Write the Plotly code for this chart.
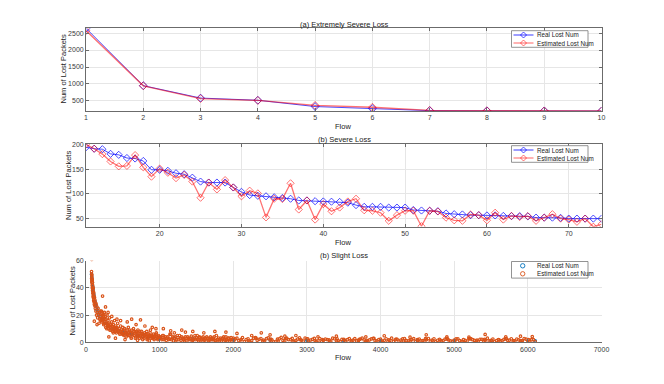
import plotly.graph_objects as go

# ---------------- data ----------------
# (a) extremely severe loss, flows 1..10
flow_a = list(range(1, 11))
real_a = [2640, 950, 585, 520, 335, 275, 215, 210, 208, 205]
est_a = [2575, 945, 570, 515, 370, 315, 225, 212, 207, 204]

# (b) severe loss, flows 11..74
flow_b = list(range(11, 75))
real_b = [195, 192, 191, 181.5, 179.5, 173, 172, 167, 149, 149,
          147, 142, 140, 133, 125, 123, 123, 123, 113, 104,
          97.5, 96, 95, 93, 91.5, 90, 86.5, 86.5, 85, 84.5,
          84, 83.5, 82, 77, 73.5, 73.5, 73.5, 72, 72, 72,
          67, 66, 65.5, 64.5, 60, 58.5, 58, 56.5, 56.5, 56,
          56, 55, 54.5, 54.5, 54, 51.5, 51.5, 51.5, 51, 49.5,
          49.5, 49.5, 49.5, 49.5]
est_b = [201, 192, 181, 166, 156, 157, 179, 154, 135, 151.5,
         143, 132, 138.5, 125, 92, 123, 109, 128, 113, 95,
         106.5, 101, 52, 90, 89.5, 121.5, 68, 86.5, 47.5, 79,
         64.5, 72, 84.5, 90, 66.5, 65.5, 61.5, 45, 56.5, 65.5,
         65.5, 34, 65.5, 64, 51.5, 46, 45, 58, 56.5, 46,
         61.5, 47.5, 55, 53, 54.5, 45, 51.5, 58.5, 49.5, 47.5,
         43, 49.5, 33, 38]

# (c) slight loss, sampled flows
real_c_x = [75, 78, 82, 86, 91, 95, 100, 106, 112, 122,
            135, 150, 170, 190, 220, 260, 300, 330, 380, 440,
            500, 545, 620, 700, 772, 850, 1000, 1200, 1455, 1700,
            2000, 2500, 3000, 3500, 4000, 4500, 5000, 5500, 6100]
real_c_y = [50, 48, 46, 44, 41, 39, 37, 35, 33, 30,
            27, 24, 21, 19, 17, 14, 12.5, 11, 10, 8.5,
            7.5, 7, 6, 5, 4.5, 4, 3.5, 3, 2.5, 2.2,
            2, 1.8, 1.5, 1.4, 1.3, 1.2, 1.1, 1.1, 1]

seg_a_x = [75, 76, 77, 78, 79, 80, 81, 82, 84, 85,
           86, 88, 89, 90, 92, 93, 95, 96, 98, 100,
           102, 104, 106, 108, 110, 113, 116, 119, 122, 126,
           130, 134, 138, 143, 148, 153, 158, 164, 170, 176,
           182, 188, 194, 200]
seg_a_y = [52, 47, 50, 61, 45, 49, 44, 47, 42, 46,
           40, 44, 38, 42, 36, 40, 38, 34, 40, 33,
           37, 31, 36, 30, 34, 28, 33, 27, 31, 25,
           29, 23, 28, 20, 26, 22, 18, 25, 20, 14,
           22, 17, 23, 16]

seg_b_x = [205, 210, 215, 220, 225, 230, 235, 240, 245, 250,
           256, 262, 268, 274, 280, 286, 292, 298, 305, 312,
           319, 326, 333, 340, 348, 356, 364, 372, 380, 388,
           396, 404, 412, 420, 430, 440, 450, 460, 470, 480,
           490, 500]
seg_b_y = [19, 23, 15, 20, 34, 17, 21, 13, 18, 22,
           15, 19, 11, 17, 14, 20, 12, 16, 10, 14,
           18, 11, 13, 9, 15, 12, 8, 13, 10, 16,
           9, 12, 7, 11, 14, 8, 10, 6, 12, 9,
           7, 11]
seg_b2_x = [208, 218, 228, 238, 248, 258, 270, 282, 295, 310,
            325, 340, 355, 370, 385, 400, 415, 435, 455, 475, 495]
seg_b2_y = [17, 21, 16, 19, 14, 17, 14, 10, 13, 12,
            9, 12, 10, 7, 11, 8, 10, 9, 7, 8, 6]

seg_c_x = [505, 515, 525, 535, 545, 555, 565, 575, 585, 595,
           605, 615, 625, 635, 645, 655, 665, 675, 685, 695,
           705, 715, 725, 735, 745, 755, 765, 775, 785, 795,
           805, 815, 825, 835, 845, 855, 865, 875, 885, 895,
           905, 915, 925, 935, 945, 955, 965, 975, 985, 995]
seg_c_y = [8, 5, 10, 7, 4, 9, 6, 11, 5, 8,
           7, 3, 9, 6, 10, 5, 7, 4, 8, 6,
           9, 5, 3, 7, 5, 8, 4, 6, 3, 7,
           5, 4, 8, 3, 6, 4, 5, 9, 3, 5,
           4, 6, 2, 5, 3, 7, 4, 2, 5, 3]
seg_c2_x = [510, 530, 550, 570, 590, 610, 630, 650, 670, 690,
            710, 730, 750, 770, 790, 810, 830, 850, 870, 890,
            910, 930, 950, 970, 990]
seg_c2_y = [6, 9, 7, 5, 9, 4, 7, 8, 3, 7,
            4, 8, 6, 2, 5, 6, 2, 5, 7, 4,
            3, 4, 6, 3, 4]

seg_d_x = [1010, 1030, 1050, 1070, 1090, 1110, 1130, 1150, 1170, 1190,
           1210, 1230, 1250, 1270, 1290, 1310, 1330, 1350, 1370, 1390,
           1410, 1430, 1450, 1470, 1490, 1510, 1530, 1550, 1570, 1590,
           1610, 1630, 1650, 1670, 1690, 1710, 1730, 1750, 1770, 1790,
           1810, 1830, 1850, 1870, 1890, 1910, 1930, 1950, 1970, 1990]
seg_d_y = [4, 2, 5, 3, 1.5, 4, 2.5, 6, 3, 1,
           4, 2, 3.5, 5, 1.5, 3, 2, 4, 1, 3,
           2.5, 4.5, 1.5, 3, 2, 5, 1, 3.5, 2, 4,
           1.5, 2.5, 3, 1, 4, 2, 3, 1.5, 5, 2,
           1, 3, 2.5, 4, 1.5, 2, 3, 1, 3.5, 2]
seg_d2_x = [1020, 1040, 1060, 1080, 1100, 1120, 1140, 1160, 1180, 1200,
            1220, 1240, 1260, 1280, 1300, 1320, 1340, 1360, 1380, 1400,
            1420, 1440, 1460, 1480, 1500, 1520, 1540, 1560, 1580, 1600,
            1620, 1640, 1660, 1680, 1700, 1720, 1740, 1760, 1780, 1800,
            1820, 1840, 1860, 1880, 1900, 1920, 1940, 1960, 1980, 2000]
seg_d2_y = [3, 5, 2, 4, 3, 2, 6, 2, 4, 3,
            1, 5, 2, 3, 4, 2, 1, 3, 4, 2,
            3, 1, 2, 5, 3, 2, 4, 1, 3, 2,
            3, 4, 1, 2, 3, 2, 4, 1, 2, 3,
            2, 1, 3, 2, 4, 1, 3, 2, 2, 3]

seg_e_x = [2025, 2075, 2125, 2175, 2225, 2275, 2325, 2375, 2425, 2475,
           2525, 2575, 2625, 2675, 2725, 2775, 2825, 2875, 2925, 2975,
           3025, 3075, 3125, 3175, 3225, 3275, 3325, 3375, 3425, 3475,
           3525, 3575, 3625, 3675, 3725, 3775, 3825, 3875, 3925, 3975,
           4025, 4075, 4125, 4175, 4225, 4275, 4325, 4375, 4425, 4475,
           4525, 4575, 4625, 4675, 4725, 4775, 4825, 4875, 4925, 4975,
           5025, 5075, 5125, 5175, 5225, 5275, 5325, 5375, 5425, 5475,
           5525, 5575, 5625, 5675, 5725, 5775, 5825, 5875, 5925, 5975,
           6025, 6075]
seg_e_y = [2.5, 1.2, 3.5, 2, 0.8, 3, 1.5, 2.8, 1, 3.2,
           1.8, 0.6, 2.6, 1.4, 3, 2, 0.9, 2.4, 1.6, 3.1,
           1.2, 2.2, 0.7, 2.8, 1.5, 2, 0.9, 2.6, 1.3, 2.1,
           0.6, 2.7, 1.6, 1, 2.4, 1.8, 0.8, 2.5, 1.2, 2,
           0.9, 2.6, 1.4, 0.7, 2.2, 1.6, 2.8, 1, 1.9, 0.6,
           2.4, 1.3, 2, 0.8, 2.6, 1.5, 1, 2.3, 1.7, 0.7,
           2.5, 1.2, 2, 0.9, 2.7, 1.4, 0.8, 2.2, 1.6, 1,
           2.4, 1.3, 0.7, 2.1, 1.5, 2.6, 0.9, 1.8, 1.2, 2.3,
           0.8, 2]
seg_e2_x = [2050, 2100, 2150, 2200, 2250, 2300, 2350, 2400, 2450, 2500,
            2550, 2600, 2650, 2700, 2750, 2800, 2850, 2900, 2950, 3000,
            3050, 3100, 3150, 3200, 3250, 3300, 3350, 3400, 3450, 3500,
            3550, 3600, 3650, 3700, 3750, 3800, 3850, 3900, 3950, 4000,
            4050, 4100, 4150, 4200, 4250, 4300, 4350, 4400, 4450, 4500,
            4550, 4600, 4650, 4700, 4750, 4800, 4850, 4900, 4950, 5000,
            5050, 5100, 5150, 5200, 5250, 5300, 5350, 5400, 5450, 5500,
            5550, 5600, 5650, 5700, 5750, 5800, 5850, 5900, 5950, 6000,
            6050, 6100]
seg_e2_y = [3, 1.8, 0.5, 2.6, 1.3, 3.4, 2.2, 0.9, 2.7, 1.6,
            0.4, 2.3, 3.6, 1.1, 2, 2.9, 1.4, 3.3, 0.8, 2.5,
            1.7, 2.9, 1.1, 0.5, 2.4, 1.8, 3, 1.2, 0.6, 2.2,
            1.9, 0.8, 2.7, 1.4, 3, 0.5, 1.8, 2.9, 1.1, 2.3,
            1.5, 0.6, 3, 1.8, 0.9, 2.5, 1.2, 0.4, 2.7, 1.9,
            1.1, 0.8, 2.8, 1.6, 0.5, 2.2, 1.3, 2.9, 1, 1.7,
            2.5, 0.6, 1.4, 2.8, 1.9, 0.9, 2.2, 1.1, 3, 1.5,
            0.5, 2, 1.2, 2.7, 1.6, 0.8, 2.4, 1.3, 2.8, 1,
            1.9, 0.6]
seg_e3_x = [2010, 2110, 2210, 2310, 2410, 2510, 2610, 2710, 2810, 2910,
            3010, 3110, 3210, 3310, 3410, 3510, 3610, 3710, 3810, 3910,
            4010, 4110, 4210, 4310, 4410, 4510, 4610, 4710, 4810, 4910,
            5010, 5110, 5210, 5310, 5410, 5510, 5610, 5710, 5810, 5910,
            6010]
seg_e3_y = [1.5, 2.2, 0.9, 3, 1.7, 2.4, 1.1, 2.8, 0.7, 1.9,
            2.6, 1.3, 2, 0.8, 2.5, 1.6, 1, 2.2, 1.4, 2.9,
            0.6, 1.8, 2.4, 1.1, 2, 1.5, 2.7, 0.9, 1.7, 2.3,
            1.2, 0.7, 2.5, 1.6, 2.1, 1, 1.8, 2.6, 1.3, 0.8,
            2]

outlier_x = [113, 150, 265, 300, 310, 350, 400, 420, 470, 530,
             560, 620, 680, 700, 740, 800, 860, 900, 950, 1050,
             1150, 1200, 1300, 1350, 1450, 1600, 1750, 1900, 2050, 2250,
             2380, 2500, 2700, 2850, 3150, 3400, 3800, 4050, 4400, 4620,
             4900, 5200, 5420, 5700, 5900, 6060]
outlier_y = [15.5, 13, 26, 22, 4, 19, 3, 17, 16, 2,
             15, 17, 13, 1.5, 16.5, 12, 1, 11, 10, 10,
             8.5, 7, 9, 7.5, 8, 7, 8, 7.5, 6.5, 5,
             7, 5.5, 4.5, 5, 4, 4.5, 4, 4.8, 3.8, 5.5,
             4, 3.8, 5.8, 4, 4.5, 4.2]

est_c_x = (seg_a_x + seg_b_x + seg_b2_x + seg_c_x + seg_c2_x + seg_d_x
           + seg_d2_x + seg_e_x + seg_e2_x + seg_e3_x + outlier_x)
est_c_y = (seg_a_y + seg_b_y + seg_b2_y + seg_c_y + seg_c2_y + seg_d_y
           + seg_d2_y + seg_e_y + seg_e2_y + seg_e3_y + outlier_y)
assert len(est_c_x) == len(est_c_y)

series_names = ["Real Lost Num", "Estimated Lost Num"]

# ---------------- style ----------------
# the page body adds an 8px offset, so the figure is 8px smaller and all
# target pixel positions below are given in window coordinates
OFF = 8
W, H = 664 - OFF, 384 - OFF
FONT = "Liberation Sans, Arial, sans-serif"
AX = "#6b6b6b"
TXT = "#3a3a3a"
BLUE = "rgba(0,0,255,0.7)"
RED = "rgba(255,0,0,0.55)"
M_BLUE = "#0072BD"
M_ORANGE = "#D95319"


def px_x(p):
    return (p - OFF) / W


def px_y(p):
    return 1 - (p - OFF) / H


fig = go.Figure()

# (a)
fig.add_trace(go.Scatter(x=flow_a, y=real_a, name=series_names[0], mode="lines+markers",
                         line=dict(color=BLUE, width=1),
                         marker=dict(symbol="diamond-open", size=6, color=BLUE, line=dict(width=1)),
                         xaxis="x", yaxis="y"))
fig.add_trace(go.Scatter(x=flow_a, y=est_a, name=series_names[1], mode="lines+markers",
                         line=dict(color=RED, width=1.3),
                         marker=dict(symbol="diamond-open", size=6, color=RED, line=dict(width=1)),
                         xaxis="x", yaxis="y"))
# (b)
fig.add_trace(go.Scatter(x=flow_b, y=real_b, name=series_names[0], mode="lines+markers",
                         line=dict(color=BLUE, width=1),
                         marker=dict(symbol="diamond-open", size=5.5, color=BLUE, line=dict(width=1)),
                         xaxis="x2", yaxis="y2"))
fig.add_trace(go.Scatter(x=flow_b, y=est_b, name=series_names[1], mode="lines+markers",
                         line=dict(color=RED, width=1.3),
                         marker=dict(symbol="diamond-open", size=5.5, color=RED, line=dict(width=1)),
                         xaxis="x2", yaxis="y2"))
# (c)
fig.add_trace(go.Scatter(x=real_c_x, y=real_c_y, name=series_names[0], mode="markers",
                         marker=dict(symbol="circle-open", size=2.5, color=M_BLUE, line=dict(width=1.2)),
                         xaxis="x3", yaxis="y3"))
fig.add_trace(go.Scatter(x=est_c_x, y=est_c_y, name=series_names[1], mode="markers",
                         marker=dict(symbol="circle-open", size=2.5, color=M_ORANGE, line=dict(width=1.2)),
                         xaxis="x3", yaxis="y3"))

xdom = [px_x(86), px_x(601.5)]
common = dict(showline=True, linecolor=AX, linewidth=0.8, ticks="inside", ticklen=3,
              tickcolor=AX, showgrid=True, gridcolor="#e6e6e6", gridwidth=0.7,
              zeroline=False, tickfont=dict(size=7, color=TXT, family=FONT),
              automargin=False)

ya_lo = min(real_a + est_a)
ya_hi = max(real_a + est_a)
yb_lo = min(real_b + est_b)
yb_hi = max(real_b + est_b)

fig.update_layout(
    width=W, height=H, margin=dict(l=0, r=0, t=0, b=0),
    paper_bgcolor="white", plot_bgcolor="white", showlegend=False,
    font=dict(family=FONT, size=7, color=TXT),
    xaxis=dict(domain=xdom, anchor="y", range=[1, 10], tickvals=flow_a,
               mirror="allticks", **common),
    yaxis=dict(domain=[px_y(111), px_y(28.3)], anchor="x", range=[ya_lo, ya_hi],
               tickvals=[500, 1000, 1500, 2000, 2500], mirror="allticks", **common),
    xaxis2=dict(domain=xdom, anchor="y2", range=[11, 74], tickvals=[20, 30, 40, 50, 60, 70],
                mirror="allticks", **common),
    yaxis2=dict(domain=[px_y(226.7), px_y(144.3)], anchor="x2", range=[yb_lo, yb_hi],
                tickvals=[50, 100, 150, 200], mirror="allticks", **common),
    xaxis3=dict(domain=xdom, anchor="y3", range=[0, 7000],
                tickvals=[0, 1000, 2000, 3000, 4000, 5000, 6000, 7000], **common),
    yaxis3=dict(domain=[px_y(342.3), px_y(260.7)], anchor="x3", range=[0, 60],
                tickvals=[0, 20, 40, 60], **common),
)

# ---------------- compact MATLAB-like legends ----------------
shapes = []
ann = []


def legend_box(top, colors, with_line, symbol):
    left, right = 511.5, 588
    shapes.append(dict(type="rect", xref="paper", yref="paper",
                       x0=px_x(left), x1=px_x(right), y0=px_y(top + 16.6), y1=px_y(top),
                       line=dict(color="#777777", width=0.8), fillcolor="white", layer="above"))
    for i, (name, col) in enumerate(zip(series_names, colors)):
        cy = top + 4.3 + 8 * i
        cx = 523.5
        if with_line:
            shapes.append(dict(type="line", xref="paper", yref="paper",
                               x0=px_x(513.5), x1=px_x(533.5), y0=px_y(cy), y1=px_y(cy),
                               line=dict(color=col, width=1.1), layer="above"))
        r = 3
        if symbol == "diamond":
            path = "M {} {} L {} {} L {} {} L {} {} Z".format(
                px_x(cx), px_y(cy - r), px_x(cx + r), px_y(cy),
                px_x(cx), px_y(cy + r), px_x(cx - r), px_y(cy))
            shapes.append(dict(type="path", xref="paper", yref="paper", path=path,
                               line=dict(color=col, width=1), layer="above"))
        else:
            cx = 522.7
            r = 2.2
            shapes.append(dict(type="circle", xref="paper", yref="paper",
                               x0=px_x(cx - r), x1=px_x(cx + r), y0=px_y(cy + r), y1=px_y(cy - r),
                               line=dict(color=col, width=0.9), layer="above"))
        ann.append(dict(text=name, x=px_x(534.5), y=px_y(cy), xref="paper", yref="paper",
                        xanchor="left", yanchor="middle", showarrow=False,
                        font=dict(size=6.3, color="#222222", family=FONT)))


legend_box(30.7, [BLUE, RED], True, "diamond")
legend_box(145.7, [BLUE, RED], True, "diamond")
legend_box(261.5, [M_BLUE, M_ORANGE], False, "circle")

# titles and axis labels
for txt, y in [("(a) Extremely Severe Loss", 24.5), ("(b) Severe Loss", 139.3), ("(b) Slight Loss", 255.5)]:
    ann.append(dict(text=txt, x=px_x(344), y=px_y(y), xref="paper", yref="paper",
                    xanchor="center", yanchor="middle", showarrow=False,
                    font=dict(size=7.5, color="#222222", family=FONT)))
for y in [126, 242, 357.5]:
    ann.append(dict(text="Flow", x=px_x(343), y=px_y(y), xref="paper", yref="paper",
                    xanchor="center", yanchor="middle", showarrow=False,
                    font=dict(size=7.5, color="#222222", family=FONT)))
for x, y in [(63, 69.5), (68.5, 185.5), (72, 301.5)]:
    ann.append(dict(text="Num of Lost Packets", x=px_x(x), y=px_y(y), xref="paper", yref="paper",
                    xanchor="center", yanchor="middle", textangle=-90, showarrow=False,
                    font=dict(size=7.5, color="#222222", family=FONT)))

fig.update_layout(shapes=shapes, annotations=ann)

fig.write_html("out.html")
